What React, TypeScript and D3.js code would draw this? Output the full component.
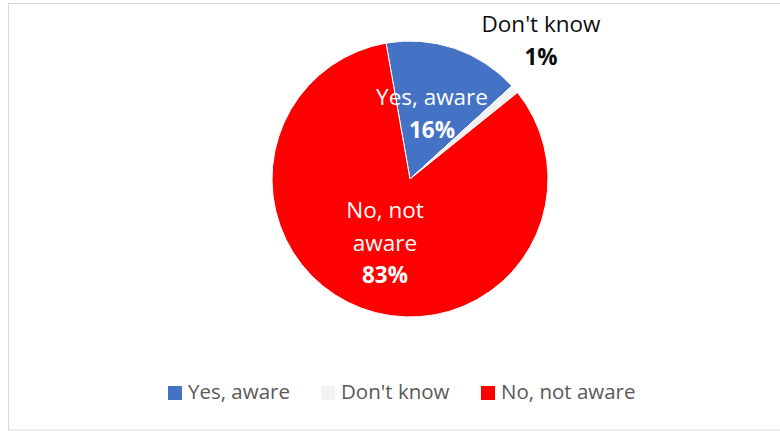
import React from "react";
import * as d3 from "d3";

const categories = ["Yes, aware", "Don't know", "No, not aware"];
const values = [16, 1, 83];
const colors = ["#4472C4", "#F2F2F2", "#FF0000"];

const W = 780;
const H = 431;
const cx = 410;
const cy = 179;
const R = 138;
const startDeg = -10;

export default function App() {
  const pie = d3
    .pie<number>()
    .sort(null)
    .value((d) => d)
    .startAngle((startDeg * Math.PI) / 180)
    .endAngle(((startDeg + 360) * Math.PI) / 180);
  const arcs = pie(values);
  const arc = d3.arc<d3.PieArcDatum<number>>().innerRadius(0).outerRadius(R);

  const font = "'Open Sans', sans-serif";
  const fs = 22.5;

  const labels = [
    { x: 432, y: 105, lines: ["Yes, aware"], pct: "16%", color: "#ffffff" },
    { x: 541, y: 32, lines: ["Don't know"], pct: "1%", color: "#0d0d0d" },
    { x: 385, y: 218, lines: ["No, not", "aware"], pct: "83%", color: "#ffffff" },
  ];

  const legendX = [168, 321, 481];

  return (
    <svg
      width={W}
      height={H}
      style={{ position: "absolute", left: 0, top: 0, background: "#fff" }}
      fontFamily={font}
    >
      <rect x={8.5} y={3.5} width={W} height={426.5} fill="#fff" stroke="#d9d9d9" strokeWidth={1} />
      <g transform={`translate(${cx},${cy})`}>
        {arcs.map((a, i) => (
          <path key={i} d={arc(a) || ""} fill={colors[i]} stroke="#fff" strokeWidth={1} />
        ))}
      </g>
      {labels.map((l, i) => (
        <text key={i} textAnchor="middle" fill={l.color} fontSize={fs}>
          {l.lines.map((ln, j) => (
            <tspan key={j} x={l.x} y={l.y + j * 32.5}>
              {ln}
            </tspan>
          ))}
          <tspan x={l.x} y={l.y + l.lines.length * 32.5} fontWeight="bold">
            {l.pct}
          </tspan>
        </text>
      ))}
      {categories.map((c, i) => (
        <g key={c}>
          <rect x={legendX[i]} y={386} width={14} height={14} fill={colors[i]} />
          <text x={legendX[i] + 20} y={399} fontSize={20.5} fill="#595959">
            {c}
          </text>
        </g>
      ))}
    </svg>
  );
}
